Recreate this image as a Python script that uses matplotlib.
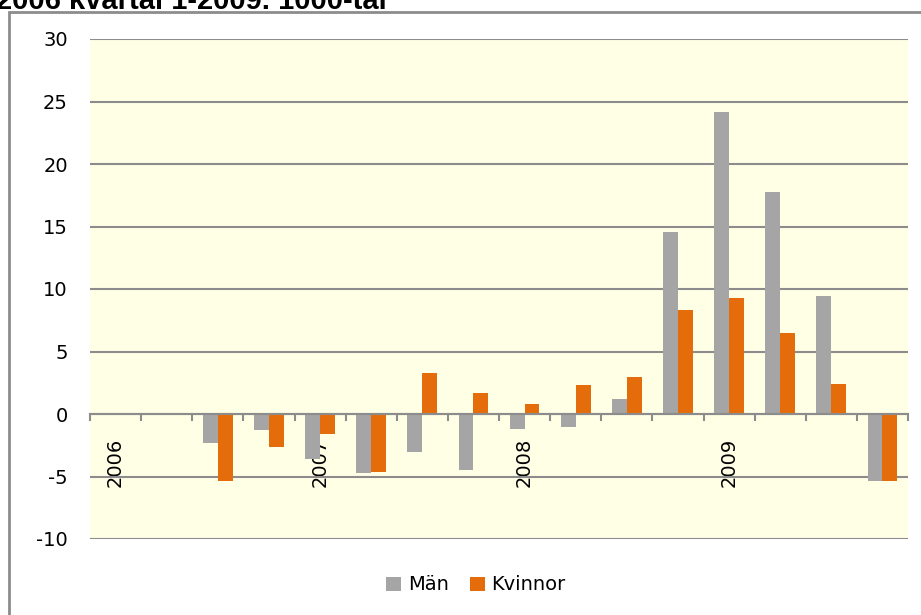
import numpy as np
import matplotlib
matplotlib.use("Agg")
import matplotlib.pyplot as plt
from matplotlib.patches import Rectangle

# quarters 2006 Q1 - 2009 Q4, change in 1000s
quarters = ["2006", "", "", "", "2007", "", "", "", "2008", "", "", "", "2009", "", "", ""]
man = [np.nan, np.nan, -2.35, -1.3, -3.6, -4.75, -3.05, -4.5, -1.2, -1.05, 1.2, 14.6, 24.2, 17.8, 9.45, -5.35]
kvinnor = [np.nan, np.nan, -5.35, -2.6, -1.6, -4.6, 3.25, 1.65, 0.8, 2.35, 2.95, 8.3, 9.3, 6.45, 2.4, -5.35]
title = "2006 kvartal 1-2009. 1000-tal"

plt.rcParams['font.family'] = ['DejaVu Sans']
plt.rcParams['axes.unicode_minus'] = False

fig = plt.figure(figsize=(9.21, 6.15), dpi=100)
ax = fig.add_axes([90/921, 76/615, 818/921, 500/615])

x = np.arange(len(quarters))
w = 0.29
ax.bar(x - w/2, man, w, color='#A5A5A5', label='Män', zorder=3)
ax.bar(x + w/2, kvinnor, w, color='#E46C0A', label='Kvinnor', zorder=3)

ax.set_facecolor('#FFFFE6')
ax.set_xlim(-0.5, len(quarters) - 0.5)
ax.set_ylim(-10, 30)
ax.set_yticks(np.arange(-10, 31, 5))
ax.yaxis.grid(True, color='#8C8C8C', lw=1.5, zorder=1)
ax.set_axisbelow(True)

for s in ['left', 'right', 'top']:
    ax.spines[s].set_visible(False)
ax.spines['bottom'].set_position(('data', 0))
ax.spines['bottom'].set_color('#8C8C8C')
ax.spines['bottom'].set_linewidth(1.5)
ax.spines['bottom'].set_zorder(4)

ax.set_xticks(x)
ax.set_xticklabels(quarters, rotation=90, fontsize=14)
ax.tick_params(axis='x', length=0, pad=17)
ax.set_xticks(np.arange(-0.5, len(quarters)), minor=True)
ax.tick_params(axis='x', which='minor', length=5, width=1.5, color='#8C8C8C', direction='out')
ax.tick_params(axis='y', length=0, pad=16, labelsize=14)

fig.legend(loc='center', bbox_to_anchor=(476/921, 1 - 585/615), ncol=2, frameon=False,
           fontsize=14, handlelength=0.75, handleheight=0.75, handletextpad=0.35, columnspacing=1.1)

# chart border
fig.patches.append(Rectangle((9/921, -0.05), 1.0, 1 - 12/615 + 0.05, transform=fig.transFigure,
                             fill=False, edgecolor='#8C8C8C', lw=2))
fig.text(-0.004, 1 - 9/615, title, fontsize=21, fontweight='bold', family='Liberation Sans',
         ha='left', va='baseline')

fig.savefig('out.png', dpi=100)
